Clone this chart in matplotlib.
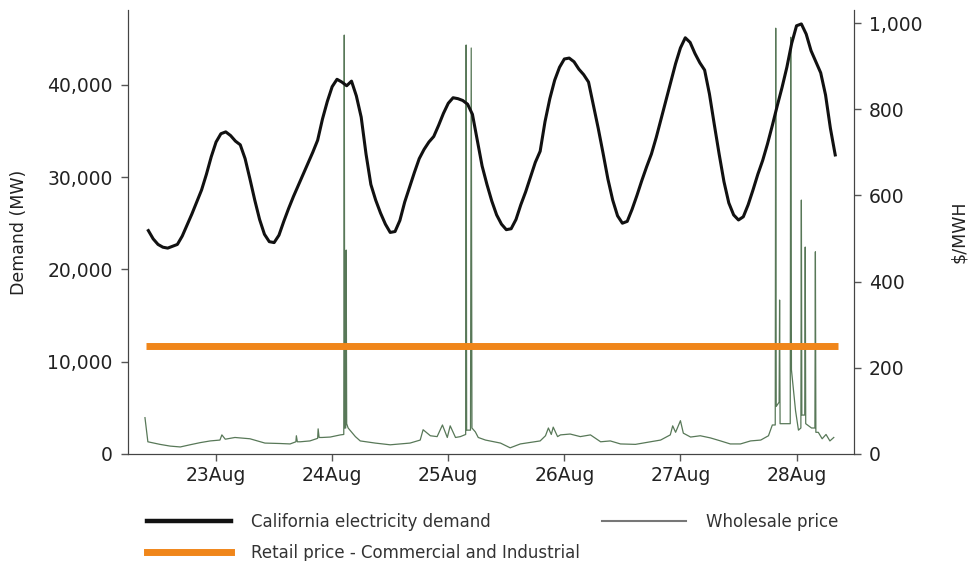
import matplotlib.pyplot as plt
import matplotlib.dates as mdates
import pandas as pd
from matplotlib.ticker import FuncFormatter

plt.rcParams['font.family'] = ['DejaVu Sans']

# hourly California demand (MW), starting 22 Aug 10:00
demand_start = '2020-08-22 10:00'
demand = [24200, 23300, 22700, 22400, 22300, 22500, 22700, 23600, 24800, 26000,
          27300, 28600, 30300, 32200, 33800, 34700, 34900, 34500, 33900, 33500,
          32000, 29800, 27500, 25400, 23800, 23000, 22900, 23700, 25200, 26600,
          27900, 29100, 30300, 31500, 32700, 34000, 36300, 38200, 39800, 40600,
          40300, 39900, 40400, 38800, 36500, 32500, 29200, 27500, 26100, 24900,
          24000, 24100, 25300, 27300, 28900, 30500, 32000, 33000, 33800, 34400,
          35600, 36900, 38000, 38600, 38500, 38300, 37900, 36800, 34000, 31200,
          29200, 27400, 25900, 24900, 24300, 24400, 25400, 27000, 28400, 30000,
          31600, 32800, 36000, 38500, 40500, 41900, 42800, 42900, 42500, 41700,
          41100, 40300, 37800, 35300, 32600, 29800, 27500, 25800, 25000, 25200,
          26500, 28000, 29600, 31100, 32500, 34300, 36300, 38300, 40300, 42300,
          44000, 45100, 44600, 43400, 42400, 41600, 39000, 35700, 32500, 29500,
          27200, 25900, 25350, 25700, 27000, 28600, 30300, 31800, 33600, 35600,
          37700, 39700, 41900, 44500, 46400, 46600, 45500, 43700, 42500, 41300,
          38900, 35300, 32400]

# wholesale price ($/MWh), hours relative to 23 Aug 00:00
price_hours = [-14.7, -14.1, -11.6, -9.5, -7.4, -5.4, -3.3, -1.2, 0.8, 1.2, 1.9, 3.9,
               7.0, 10.1, 13.2, 15.3, 16.5, 16.6, 16.8, 17.4, 19.4, 21.0, 21.1, 21.3,
               21.9, 23.6, 25.7, 26.4, 26.5, 26.6, 26.8, 26.9, 27.0, 27.3, 28.8,
               29.8, 32.9, 36.0, 40.1, 42.2, 42.8, 44.3, 45.7, 46.8, 47.8, 48.4,
               49.5, 50.5, 51.6, 51.7, 51.8, 52.6, 52.75, 52.9, 53.6, 54.2, 55.7,
               58.8, 60.8, 62.9, 67.0, 68.1, 68.7, 69.3, 69.7, 70.6, 71.2, 73.2,
               75.3, 77.4, 79.5, 81.5, 83.6, 86.7, 89.8, 91.9, 93.9, 94.4, 95.0,
               96.0, 96.6, 98.1, 100.1, 102.2, 104.3, 106.3, 108.4, 110.5, 112.6,
               114.2, 115.0, 115.6, 115.7, 115.8, 116.4, 116.5, 116.6, 117.7,
               118.7, 118.8, 118.95, 119.8, 120.4, 120.9, 121.0, 121.1, 121.7,
               121.8, 121.9, 123.1, 123.8, 123.9, 124.0, 124.5, 125.3, 126.1,
               126.9, 127.7]
price_vals = [84, 28, 22, 18, 16, 21, 26, 30, 32, 44, 34, 38,
              35, 25, 24, 23, 28, 42, 28, 28, 30, 36, 58, 38,
              38, 39, 44, 45, 972, 60, 60, 473, 70, 60, 40,
              30, 25, 21, 25, 32, 56, 42, 40, 67, 38, 65,
              38, 40, 45, 949, 55, 55, 942, 60, 51, 38, 32,
              25, 14, 23, 30, 42, 60, 45, 62, 40, 44, 46,
              40, 44, 28, 30, 23, 22, 28, 32, 44, 65, 50,
              77, 48, 39, 42, 37, 30, 23, 23, 30, 32,
              42, 67, 67, 988, 110, 120, 357, 70, 70,
              70, 967, 195, 100, 55, 60, 589, 90, 90,
              480, 70, 60, 60, 469, 50, 50, 35, 45,
              30, 38]

retail_price = 250
retail_span = ['2020-08-22 09:30', '2020-08-28 08:40']

day0 = pd.Timestamp('2020-08-23 00:00')
t_demand = pd.date_range(demand_start, periods=len(demand), freq='h')
t_price = [day0 + pd.Timedelta(hours=h) for h in price_hours]

fig = plt.figure(figsize=(9.7, 5.61), dpi=100)
ax = fig.add_axes([0.132, 0.191, 0.748, 0.791])
ax2 = ax.twinx()

ax2.plot(t_price, price_vals, color='#587858', lw=0.9)
ax2.plot(pd.to_datetime(retail_span), [retail_price, retail_price], color='#f0861a', lw=5,
         solid_capstyle='butt')
ax.plot(t_demand, demand, color='#111111', lw=2.2, solid_joinstyle='round')

ax.set_zorder(ax2.get_zorder() + 1)
ax.patch.set_visible(False)

ax.set_xlim(pd.Timestamp('2020-08-22 05:48'), pd.Timestamp('2020-08-28 11:48'))
ax.set_ylim(0, 48100)
ax2.set_ylim(0, 1030)
ax.set_yticks([0, 10000, 20000, 30000, 40000])
ax2.set_yticks([0, 200, 400, 600, 800, 1000])
fmt = FuncFormatter(lambda v, p: f'{int(v):,}')
ax.yaxis.set_major_formatter(fmt)
ax2.yaxis.set_major_formatter(fmt)
ax.xaxis.set_major_locator(mdates.DayLocator())
ax.xaxis.set_major_formatter(mdates.DateFormatter('%d%b'))

for a in (ax, ax2):
    a.spines['top'].set_visible(False)
    for s in a.spines.values():
        s.set_color('#444444')
    a.tick_params(direction='out', length=5, width=1, color='#555555',
                  labelcolor='#222222', labelsize=13.5, pad=6)
ax.tick_params(axis='x', pad=4)

ax.set_ylabel('Demand (MW)', fontsize=12.5, color='#222222', labelpad=14)
ax2.set_ylabel('$/MWH', fontsize=12.5, color='#222222', labelpad=20)

h1, = ax.plot([], [], color='#111111', lw=3.2, label='California electricity demand')
h2, = ax.plot([], [], color='#f0861a', lw=5, label='Retail price - Commercial and Industrial')
h3, = ax.plot([], [], color='#777777', lw=1.5, label='Wholesale price')

leg1 = fig.legend(handles=[h1, h2], loc='upper left', bbox_to_anchor=(0.152, 0.085),
                  frameon=False, fontsize=12, handlelength=5.0, handletextpad=1.2,
                  labelspacing=0.75, borderaxespad=0, borderpad=0)
leg2 = fig.legend(handles=[h3], loc='upper left', bbox_to_anchor=(0.621, 0.085),
                  frameon=False, fontsize=12, handlelength=5.0, handletextpad=1.2,
                  borderaxespad=0, borderpad=0)
for lg in (leg1, leg2):
    for t in lg.get_texts():
        t.set_color('#333333')

fig.savefig('out.png', dpi=100)
